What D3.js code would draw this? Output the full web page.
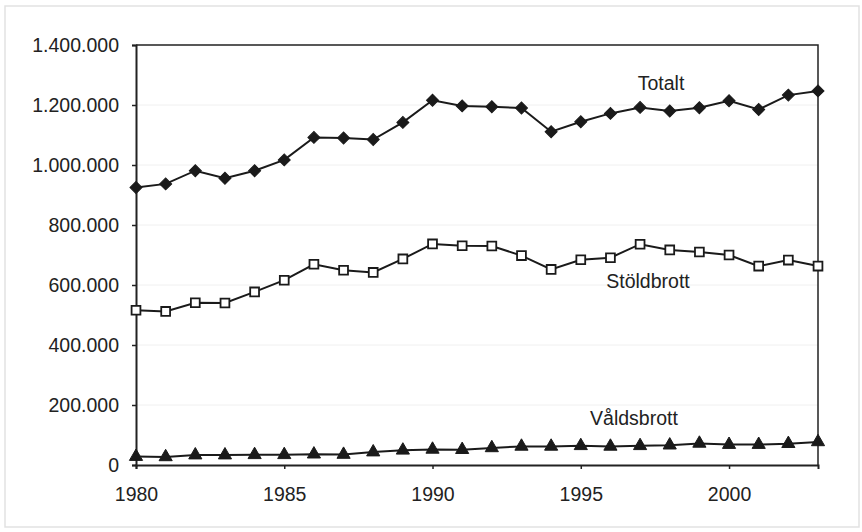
<!DOCTYPE html>
<html>
<head>
<meta charset="utf-8">
<script src="https://cdn.jsdelivr.net/npm/d3@7"></script>
<style>
  body { margin: 0; background: #fff; }
  text { font-family: "Liberation Sans", Arial, Helvetica, sans-serif; fill: #222; }
</style>
</head>
<body>
<div id="chart"></div>
<script>
var years = d3.range(1980, 2004);

var totalt = [925000, 937000, 981000, 956000, 981000, 1017000, 1092000, 1090000, 1085000, 1142000,
  1216000, 1197000, 1194000, 1190000, 1111000, 1144000, 1172000, 1192000, 1180000, 1191000,
  1214000, 1185000, 1233000, 1247000];

var stold = [516000, 512000, 541000, 540000, 577000, 616000, 669000, 649000, 642000, 687000,
  737000, 731000, 730000, 698000, 652000, 684000, 691000, 736000, 717000, 710000,
  700000, 663000, 683000, 663000];

var vald = [28000, 27000, 33000, 33000, 34000, 34000, 36000, 35000, 43000, 49000,
  52000, 51000, 57000, 62000, 62000, 64000, 62000, 64000, 66000, 72000,
  68000, 68000, 71000, 77000];

var yTicks = [0, 200000, 400000, 600000, 800000, 1000000, 1200000, 1400000];
var xTicks = [1980, 1985, 1990, 1995, 2000];

var width = 862, height = 532;

var svg = d3.select("#chart").append("svg")
  .attr("width", width)
  .attr("height", height);

// faint frame round the whole picture
svg.append("rect")
  .attr("x", 5).attr("y", 6)
  .attr("width", 854).attr("height", 521)
  .attr("fill", "none")
  .attr("stroke", "#e2e2e2")
  .attr("stroke-width", 1.5);

var x = d3.scaleLinear().domain([1980, 2003]).range([136, 818]);
var y = d3.scaleLinear().domain([0, 1400000]).range([465, 45]);

var fmt = d3.formatLocale({decimal: ",", thousands: ".", grouping: [3], currency: ["", ""]}).format(",");

// very faint grid
svg.append("g").selectAll("line")
  .data(yTicks.slice(1, -1))
  .enter().append("line")
  .attr("x1", x(1980)).attr("x2", x(2003))
  .attr("y1", d => y(d)).attr("y2", d => y(d))
  .attr("stroke", "#f0f0f0")
  .attr("stroke-width", 1);

// frame top + right
svg.append("path")
  .attr("d", "M" + x(1980) + "," + y(1400000) + "H" + x(2003) + "V" + y(0))
  .attr("fill", "none")
  .attr("stroke", "#222")
  .attr("stroke-width", 1.5);

var yAxis = d3.axisLeft(y).tickValues(yTicks).tickFormat(fmt).tickSize(4).tickPadding(13);
var gy = svg.append("g")
  .attr("transform", "translate(" + x(1980) + ",0)")
  .call(yAxis);
gy.select(".domain").attr("stroke", "#222").attr("stroke-width", 2);
gy.selectAll(".tick line").attr("stroke", "#222").attr("stroke-width", 1.5);
gy.selectAll("text").style("font-size", "19.5px").attr("fill", "#222");

var xAxis = d3.axisBottom(x).tickValues(xTicks).tickFormat(d3.format("d")).tickSize(4).tickPadding(18);
var gx = svg.append("g")
  .attr("transform", "translate(0," + y(0) + ")")
  .call(xAxis);
gx.select(".domain").attr("stroke", "#222").attr("stroke-width", 2);
gx.selectAll(".tick line").attr("stroke", "#222").attr("stroke-width", 1.5);
gx.selectAll("text").style("font-size", "19.5px").attr("fill", "#222");

var line = d3.line()
  .x((d, i) => x(years[i]))
  .y(d => y(d));

function drawSeries(vals, sym, size, rot, filled) {
  svg.append("path")
    .datum(vals)
    .attr("d", line)
    .attr("fill", "none")
    .attr("stroke", "#1a1a1a")
    .attr("stroke-width", 2);

  svg.append("g").selectAll("path")
    .data(vals)
    .enter().append("path")
    .attr("d", d3.symbol().type(sym).size(size))
    .attr("transform", (d, i) => "translate(" + x(years[i]) + "," + y(d) + ") rotate(" + rot + ")")
    .attr("fill", filled ? "#1a1a1a" : "#fff")
    .attr("stroke", "#1a1a1a")
    .attr("stroke-width", filled ? 1 : 1.8);
}

drawSeries(totalt, d3.symbolSquare, 72, 45, true);
drawSeries(stold, d3.symbolSquare, 78, 0, false);
drawSeries(vald, d3.symbolTriangle, 75, 0, true);

// series labels
svg.append("text").attr("x", 661).attr("y", 90).attr("text-anchor", "middle")
  .style("font-size", "19.5px").text("Totalt");
svg.append("text").attr("x", 648).attr("y", 288).attr("text-anchor", "middle")
  .style("font-size", "19.5px").text("Stöldbrott");
svg.append("text").attr("x", 634).attr("y", 425).attr("text-anchor", "middle")
  .style("font-size", "19.5px").text("Våldsbrott");
</script>
</body>
</html>
